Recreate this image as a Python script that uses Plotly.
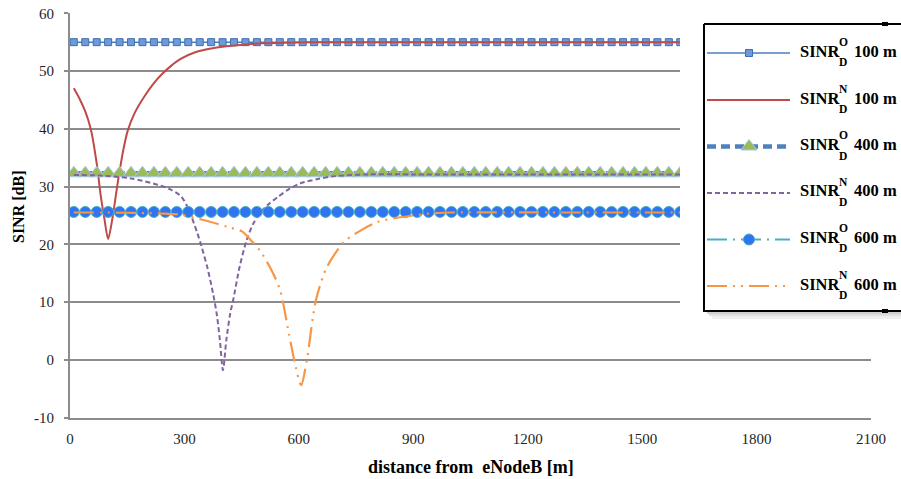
import plotly.graph_objects as go

W, H = 901, 479

# ---------------- data ----------------
dist = [10, 40, 70, 100, 130, 160, 190, 220, 250, 280, 310, 340, 370, 400, 430, 460, 490, 520,
        550, 580, 610, 640, 670, 700, 730, 760, 790, 820, 850, 880, 910, 940, 970, 1000, 1030,
        1060, 1090, 1120, 1150, 1180, 1210, 1240, 1270, 1300, 1330, 1360, 1390, 1420, 1450,
        1480, 1510, 1540, 1570, 1600]

sinr_o_100 = [55.0, 55.0, 55.0, 55.0, 55.0, 55.0, 55.0, 55.0, 55.0, 55.0, 55.0, 55.0, 55.0, 55.0,
              55.0, 55.0, 55.0, 55.0, 55.0, 55.0, 55.0, 55.0, 55.0, 55.0, 55.0, 55.0, 55.0, 55.0,
              55.0, 55.0, 55.0, 55.0, 55.0, 55.0, 55.0, 55.0, 55.0, 55.0, 55.0, 55.0, 55.0, 55.0,
              55.0, 55.0, 55.0, 55.0, 55.0, 55.0, 55.0, 55.0, 55.0, 55.0, 55.0, 55.0]
sinr_o_400 = [32.3, 32.3, 32.3, 32.3, 32.3, 32.3, 32.3, 32.3, 32.3, 32.3, 32.3, 32.3, 32.3, 32.3,
              32.3, 32.3, 32.3, 32.3, 32.3, 32.3, 32.3, 32.3, 32.3, 32.3, 32.3, 32.3, 32.3, 32.3,
              32.3, 32.3, 32.3, 32.3, 32.3, 32.3, 32.3, 32.3, 32.3, 32.3, 32.3, 32.3, 32.3, 32.3,
              32.3, 32.3, 32.3, 32.3, 32.3, 32.3, 32.3, 32.3, 32.3, 32.3, 32.3, 32.3]
sinr_o_600 = [25.6, 25.6, 25.6, 25.6, 25.6, 25.6, 25.6, 25.6, 25.6, 25.6, 25.6, 25.6, 25.6, 25.6,
              25.6, 25.6, 25.6, 25.6, 25.6, 25.6, 25.6, 25.6, 25.6, 25.6, 25.6, 25.6, 25.6, 25.6,
              25.6, 25.6, 25.6, 25.6, 25.6, 25.6, 25.6, 25.6, 25.6, 25.6, 25.6, 25.6, 25.6, 25.6,
              25.6, 25.6, 25.6, 25.6, 25.6, 25.6, 25.6, 25.6, 25.6, 25.6, 25.6, 25.6]

n100_x = [10, 25, 40, 55, 70, 81, 90, 100, 110, 125, 140, 151, 170, 195, 220, 240, 265, 290,
          330, 370, 410, 460, 500, 560, 630, 700, 800, 1000, 1300, 1600]
n100_y = [47.0, 45.2, 43.0, 39.8, 34.0, 28.2, 24.5, 20.9, 24.0, 30.6, 36.4, 39.6, 42.8, 45.6,
          47.9, 49.4, 50.9, 52.1, 53.3, 53.9, 54.3, 54.6, 54.8, 54.9, 55.0, 55.0, 55.0, 55.0,
          55.0, 55.0]

n400_x = [10, 80, 160, 230, 260, 291, 310, 334, 345, 360, 375, 385, 393, 401, 410, 420, 428,
          445, 463, 480, 498, 520, 545, 575, 606, 650, 694, 780, 900, 1200, 1600]
n400_y = [32.0, 31.9, 31.4, 30.3, 29.6, 28.3, 26.2, 21.9, 19.6, 16.0, 11.5, 7.8, 3.4, -1.8,
          3.5, 8.0, 10.4, 16.2, 20.7, 23.5, 25.4, 26.9, 28.2, 29.6, 30.6, 31.3, 31.8, 32.1,
          32.1, 32.1, 32.1]

n600_x = [10, 100, 200, 250, 291, 350, 414, 452, 470, 498, 530, 551, 574, 592, 606, 621, 645,
          674, 720, 765, 808, 850, 890, 940, 1000, 1300, 1600]
n600_y = [25.5, 25.5, 25.4, 25.3, 25.1, 24.2, 23.0, 22.2, 21.0, 18.9, 15.3, 12.0, 4.5, -1.3,
          -4.4, 0.0, 10.4, 16.1, 20.5, 22.5, 23.9, 24.5, 24.9, 25.3, 25.5, 25.5, 25.5]

x_ticks = [0, 300, 600, 900, 1200, 1500, 1800, 2100]
y_ticks = [-10, 0, 10, 20, 30, 40, 50, 60]
y_tick_text = ["-10", "0", "10", "20", "30", "40", "50", "60"]

legend_sup = ["O", "N", "O", "N", "O", "N"]
legend_range = ["100 m", "100 m", "400 m", "400 m", "600 m", "600 m"]

# ---------------- styles ----------------
FONT = "Liberation Serif, Times New Roman, serif"
GRID = "#8c8c8c"

styles = [
    dict(line=dict(color="#4a7ebb", width=1.5), mode="lines+markers",
         marker=dict(symbol="square", size=7, color="#6f9ad8", line=dict(color="#3f6fb0", width=1))),
    dict(line=dict(color="#be4b48", width=2), mode="lines", marker=None),
    dict(line=dict(color="#4f81bd", width=4.5, dash="9px,5px"), mode="lines+markers",
         marker=dict(symbol="triangle-up", size=14, color="#9bbb59", line=dict(color="#a8c8ec", width=1))),
    dict(line=dict(color="#8064a2", width=2, dash="5px,3px"), mode="lines", marker=None),
    dict(line=dict(color="#4bacc6", width=2, dash="20px,6px,2px,6px"), mode="lines+markers",
         marker=dict(symbol="circle", size=11, color="#2f74f0", line=dict(color="#4bacc6", width=1))),
    dict(line=dict(color="#f79646", width=2.2, dash="20px,6px,2px,6px,2px,6px"), mode="lines", marker=None),
]

series = [
    (dist, sinr_o_100, "linear"),
    (n100_x, n100_y, "spline"),
    (dist, sinr_o_400, "linear"),
    (n400_x, n400_y, "spline"),
    (dist, sinr_o_600, "linear"),
    (n600_x, n600_y, "spline"),
]

fig = go.Figure()
for (xs, ys, shape), st in zip(series, styles):
    kw = dict(x=xs, y=ys, mode=st["mode"], line=dict(st["line"], shape=shape),
              showlegend=False, hoverinfo="skip")
    if shape == "spline":
        kw["line"]["smoothing"] = 0.8
    if st["marker"] is not None:
        kw["marker"] = st["marker"]
    fig.add_trace(go.Scatter(**kw))

# ---------------- layout geometry (pixels) ----------------
px_x0, px_x1 = 70, 871          # x = 0 .. 2100
px_y0, px_y1 = 417.5, 13.3      # y = -10 .. 60
xdom = [px_x0 / W, px_x1 / W]
ydom = [(H - px_y0) / H, (H - px_y1) / H]
zero_pos = ydom[0] + (0 - y_ticks[0]) / (y_ticks[-1] - y_ticks[0]) * (ydom[1] - ydom[0])


def px(x, y):
    return x / W, 1 - y / H


# ---------------- legend (drawn on an independent pixel subplot) ----------------
row_y = [53, 100, 146.5, 193, 239.5, 286]
box_l, box_t, box_r, box_b = 704, 24, 906, 311

leg = dict(xaxis="x4", yaxis="y4", showlegend=False, hoverinfo="skip")
# white cover over the gridlines
fig.add_trace(go.Scatter(x=[680, 901, 901, 680, 680], y=[17, 17, 330, 330, 17],
                         mode="lines", fill="toself", fillcolor="white", line=dict(width=0), **leg))
# soft shadow
for off, col in [(8, "#efefef"), (5, "#e0e0e0"), (3, "#d0d0d0")]:
    fig.add_trace(go.Scatter(x=[box_l + off, box_r + off, box_r + off, box_l + off, box_l + off],
                             y=[box_t + off, box_t + off, box_b + off, box_b + off, box_t + off],
                             mode="lines", fill="toself", fillcolor=col, line=dict(width=0), **leg))
fig.add_trace(go.Scatter(x=[box_l, box_r, box_r, box_l, box_l], y=[box_t, box_t, box_b, box_b, box_t],
                         mode="lines", fill="toself", fillcolor="white",
                         line=dict(color="black", width=2), **leg))
for yy in (box_t, box_b):
    fig.add_trace(go.Scatter(x=[882, 888], y=[yy, yy], mode="lines",
                             line=dict(color="black", width=4), **leg))

for i, st in enumerate(styles):
    ry = row_y[i]
    fig.add_trace(go.Scatter(x=[707, 790], y=[ry, ry], mode="lines", line=st["line"], **leg))
    if st["marker"] is not None:
        fig.add_trace(go.Scatter(x=[749], y=[ry], mode="markers", marker=st["marker"], **leg))

annotations = []
for i in range(6):
    ry = row_y[i]
    common = dict(xref="paper", yref="paper", showarrow=False, xanchor="left", yanchor="middle")
    for (ax, ay, txt, fs) in [(798, ry - 2, "SINR", 16.5),
                              (837, ry - 11, legend_sup[i], 11.5),
                              (837, ry + 9, "D", 11.5),
                              (852, ry - 2, legend_range[i], 16.5)]:
        xx, yy = px(ax, ay)
        annotations.append(dict(x=xx, y=yy, text="<b>%s</b>" % txt,
                                font=dict(family=FONT, size=fs, color="black"), **common))

# axis titles
tx, ty = px((px_x0 + px_x1) / 2, 467)
annotations.append(dict(xref="paper", yref="paper", x=tx, y=ty, showarrow=False,
                        text="<b>distance from  eNodeB [m]</b>", xanchor="center", yanchor="middle",
                        font=dict(family=FONT, size=18, color="black")))
tx, ty = px(18, 207)
annotations.append(dict(xref="paper", yref="paper", x=tx, y=ty, showarrow=False, textangle=-90,
                        text="<b>SINR [dB]</b>", xanchor="center", yanchor="middle",
                        font=dict(family=FONT, size=16, color="black")))

tickfont = dict(family=FONT, size=15, color="#1f1f1f")

fig.update_layout(
    width=W, height=H,
    margin=dict(l=0, r=0, t=0, b=0, autoexpand=False),
    paper_bgcolor="white", plot_bgcolor="rgba(0,0,0,0)",
    showlegend=False,
    xaxis=dict(domain=xdom, range=[x_ticks[0], x_ticks[-1]], tickvals=x_ticks, ticks="",
               showgrid=False, zeroline=False, showline=True, linecolor=GRID, linewidth=2,
               tickfont=tickfont, ticklabelstandoff=6, anchor="y", automargin=False),
    yaxis=dict(domain=ydom, range=[y_ticks[0], y_ticks[-1]], tickvals=y_ticks, ticktext=y_tick_text,
               ticks="outside", ticklen=4, tickwidth=2, tickcolor=GRID, showgrid=True,
               gridcolor=GRID, gridwidth=2, zeroline=False, showline=True, linecolor=GRID,
               linewidth=2, tickfont=tickfont, ticklabelstandoff=7, anchor="x", automargin=False),
    xaxis3=dict(domain=xdom, range=[x_ticks[0], x_ticks[-1]], tickvals=x_ticks[1:], ticks="outside",
                ticklen=5, tickwidth=2, tickcolor=GRID, showticklabels=False, showgrid=False,
                zeroline=False, showline=True, linecolor=GRID, linewidth=2,
                overlaying="x", anchor="free", position=zero_pos, side="bottom"),
    xaxis4=dict(domain=[0, 1], range=[0, W], visible=False, anchor="y4", fixedrange=True),
    yaxis4=dict(domain=[0, 1], range=[H, 0], visible=False, anchor="x4", fixedrange=True),
    annotations=annotations,
)

fig.write_html("out.html")
